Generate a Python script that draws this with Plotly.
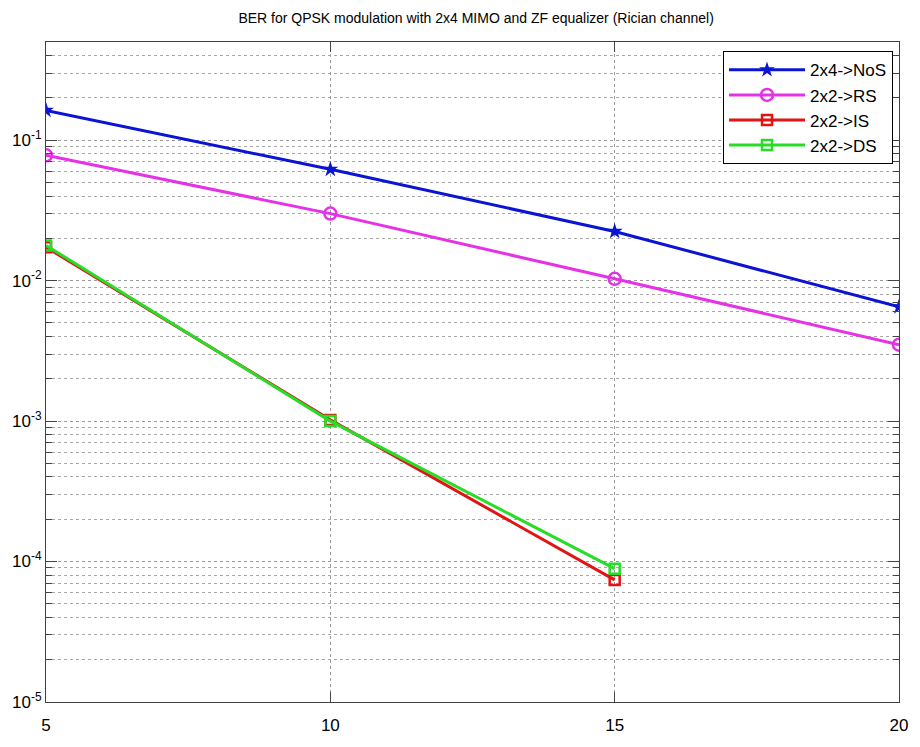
import plotly.graph_objects as go

snr = [5, 10, 15, 20]
ber_nos = [0.163, 0.062, 0.0224, 0.0065]
ber_rs = [0.078, 0.030, 0.0103, 0.0035]
snr_short = [5, 10, 15]
ber_is = [0.0173, 0.00102, 7.4e-5]
ber_ds = [0.0178, 0.00100, 8.9e-5]

ytick_vals = [1e-5, 1e-4, 1e-3, 1e-2, 1e-1]
ytick_text = ["10<sup>-5</sup>", "10<sup>-4</sup>", "10<sup>-3</sup>", "10<sup>-2</sup>", "10<sup>-1</sup>"]
xtick_vals = [5, 10, 15, 20]
minor_vals = [m * 10 ** e for e in range(-5, 0) for m in range(2, 10)] + [0.2, 0.3, 0.4]

font = "Liberation Sans, Arial, sans-serif"

fig = go.Figure()
fig.add_trace(go.Scatter(x=snr, y=ber_nos, name="2x4->NoS", mode="lines+markers",
                         line=dict(color="#0a14d2", width=3),
                         marker=dict(symbol="star", size=12, color="#0a14d2")))
fig.add_trace(go.Scatter(x=snr, y=ber_rs, name="2x2->RS", mode="lines+markers",
                         line=dict(color="#e632e6", width=3),
                         marker=dict(symbol="circle-open", size=12, color="#e632e6", line=dict(width=2.5))))
fig.add_trace(go.Scatter(x=snr_short, y=ber_is, name="2x2->IS", mode="lines+markers",
                         line=dict(color="#e01414", width=3),
                         marker=dict(symbol="square-open", size=10, color="#e01414", line=dict(width=2.5))))
fig.add_trace(go.Scatter(x=snr_short, y=ber_ds, name="2x2->DS", mode="lines+markers",
                         line=dict(color="#28dc28", width=3),
                         marker=dict(symbol="square-open", size=10, color="#28dc28", line=dict(width=2.5))))

fig.update_layout(
    width=920, height=747,
    margin=dict(l=46, r=13, t=42, b=28),
    paper_bgcolor="white", plot_bgcolor="white",
    font=dict(family=font, color="black"),
    title=dict(text="BER for QPSK modulation with 2x4 MIMO and ZF equalizer (Rician channel)",
               x=0.5175, xanchor="center", y=0.976, yanchor="middle",
               font=dict(size=14, family=font, color="black")),
    showlegend=True,
    legend=dict(x=0.993, y=0.986, xanchor="right", yanchor="top",
                bgcolor="white", bordercolor="black", borderwidth=1,
                font=dict(size=17, family=font), itemwidth=76,
                tracegroupgap=0),
)
fig.update_xaxes(
    range=[5, 20], tickvals=xtick_vals, ticks="inside", ticklen=10,
    showline=True, linecolor="#404040", linewidth=1, mirror="allticks",
    showgrid=True, gridcolor="#9a9a9a", griddash="dot", gridwidth=1,
    zeroline=False, tickfont=dict(size=17, family=font), ticklabelstandoff=8,
)
fig.update_yaxes(
    type="log", range=[-5, -0.30103], tickvals=ytick_vals, ticktext=ytick_text,
    ticks="inside", ticklen=11,
    showline=True, linecolor="#404040", linewidth=1, mirror="allticks",
    showgrid=True, gridcolor="#9a9a9a", griddash="dot", gridwidth=1,
    zeroline=False, tickfont=dict(size=17, family=font),
    minor=dict(tickmode="array", tickvals=minor_vals, ticks="inside", ticklen=6,
               showgrid=True, gridcolor="#a8a8a8", griddash="dot", gridwidth=1),
)

fig.write_html("out.html")
